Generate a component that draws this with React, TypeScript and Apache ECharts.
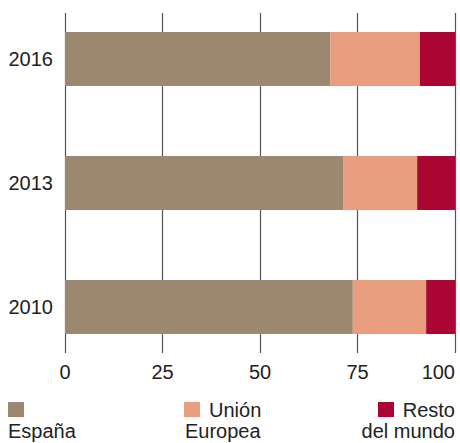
import React, { useEffect, useRef } from "react";
import * as echarts from "echarts";

const categories = ["2010", "2013", "2016"];
const seriesNames = ["España", "Unión Europea", "Resto del mundo"];
const espana = [73.8, 71.3, 68.0];
const unionEuropea = [18.8, 19.0, 23.0];
const restoMundo = [7.4, 9.7, 9.0];
const xTicks = [0, 25, 50, 75, 100];
const colors = ["#9C8870", "#E89D7F", "#AA0533"];

const FONT = "Liberation Sans, Arial, sans-serif";

export default function App() {
  const ref = useRef<HTMLDivElement>(null);
  useEffect(() => {
    if (!ref.current) return;
    const chart = echarts.init(ref.current, undefined, { renderer: "svg" });
    const values = [espana, unionEuropea, restoMundo];
    const option: any = {
      animation: false,
      textStyle: { fontFamily: FONT },
      grid: [
        { left: 65, right: 5, top: -3, height: 372, containLabel: false, outerBoundsMode: "none" },
        { left: 65, right: 5, top: 13, height: 340, containLabel: false, outerBoundsMode: "none" },
      ],
      xAxis: [
        {
          gridIndex: 0,
          type: "value",
          min: xTicks[0],
          max: xTicks[xTicks.length - 1],
          interval: 25,
          show: false,
        },
        {
          gridIndex: 1,
          type: "value",
          min: xTicks[0],
          max: xTicks[xTicks.length - 1],
          interval: 25,
          axisLine: { show: false },
          axisTick: { show: false },
          splitLine: { show: true, lineStyle: { color: "#555", width: 1.2 } },
          axisLabel: {
            show: true,
            margin: 9,
            fontSize: 20,
            color: "#222",
            fontFamily: FONT,
            alignMaxLabel: "right",
          },
        },
      ],
      yAxis: [
        {
          gridIndex: 0,
          type: "category",
          data: categories,
          axisLine: { show: false },
          axisTick: { show: false },
          splitLine: { show: false },
          axisLabel: {
            margin: 12,
            fontSize: 20,
            color: "#222",
            fontFamily: FONT,
          },
        },
        {
          gridIndex: 1,
          type: "value",
          show: false,
        },
      ],
      series: seriesNames.map((name, i) => ({
        name,
        type: "bar",
        stack: "total",
        xAxisIndex: 0,
        yAxisIndex: 0,
        barWidth: 54,
        data: values[i],
        itemStyle: { color: colors[i] },
        z: 3,
      })),
      graphic: [
        { type: "rect", shape: { x: 8, y: 402, width: 16, height: 15 }, style: { fill: colors[0] } },
        { type: "text", x: 8, y: 431, style: { text: "España", font: `20px ${FONT}`, fill: "#222", textAlign: "left", textVerticalAlign: "middle" } },
        { type: "rect", shape: { x: 184, y: 402, width: 16, height: 15 }, style: { fill: colors[1] } },
        { type: "text", x: 209, y: 410, style: { text: "Unión", font: `20px ${FONT}`, fill: "#222", textAlign: "left", textVerticalAlign: "middle" } },
        { type: "text", x: 185, y: 431, style: { text: "Europea", font: `20px ${FONT}`, fill: "#222", textAlign: "left", textVerticalAlign: "middle" } },
        { type: "rect", shape: { x: 378, y: 402, width: 16, height: 15 }, style: { fill: colors[2] } },
        { type: "text", x: 455, y: 410, style: { text: "Resto", font: `20px ${FONT}`, fill: "#222", textAlign: "right", textVerticalAlign: "middle" } },
        { type: "text", x: 455, y: 431, style: { text: "del mundo", font: `20px ${FONT}`, fill: "#222", textAlign: "right", textVerticalAlign: "middle" } },
      ],
    };
    chart.setOption(option);
    return () => chart.dispose();
  }, []);
  return <div ref={ref} style={{ width: 460, height: 443, position: "absolute", left: 0, top: 0 }} />;
}
